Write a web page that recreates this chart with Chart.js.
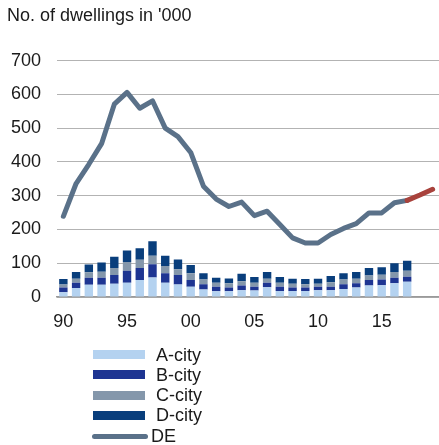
<!DOCTYPE html>
<html>
<head>
<meta charset="utf-8">
<script src="https://cdn.jsdelivr.net/npm/chart.js@4/dist/chart.umd.min.js"></script>
<style>
  html, body { margin: 0; padding: 0; background: #fff; }
  body { width: 439px; height: 445px; position: relative; overflow: hidden;
         font-family: "Liberation Sans", Arial, sans-serif; }
  #wrap { position: absolute; left: 0; top: 0; width: 439px; height: 360px; }
  #legend { position: absolute; left: 0; top: 0; width: 439px; height: 445px; pointer-events: none; }
  .lg-item { position: absolute; left: 0; height: 20px; width: 300px; }
  .lg-box { position: absolute; }
  .lg-text { position: absolute; font-size: 18px; color: #1a1a1a; line-height: 20px; top: 0; }
</style>
</head>
<body>
<div id="wrap"><canvas id="c"></canvas></div>
<div id="legend"></div>
<script>
const years = [1990,1991,1992,1993,1994,1995,1996,1997,1998,1999,2000,2001,2002,2003,2004,
               2005,2006,2007,2008,2009,2010,2011,2012,2013,2014,2015,2016,2017,2018,2019];
const tickYears = [1990,1995,2000,2005,2010,2015];
const aCity = [14,27,36,36,39,42,50,58,42,37,30,22,17,17,20,19,29,18,18,18,20,20,24,28,34,35,41,45,null,null];
const bCity = [14,15,21,21,26,36,36,39,28,28,20,16,13,11,14,11,13,12,10,10,10,10,14,13,16,17,16,15,null,null];
const cCity = [9,12,16,18,21,26,24,25,22,17,20,14,12,13,13,12,12,12,11,10,9,14,14,13,14,14,17,18,null,null];
const dCity = [16,20,23,27,33,34,34,43,30,29,25,18,15,14,22,17,20,17,15,15,15,18,18,20,22,22,26,29,null,null];
const deTotal = [239,336,393,454,571,606,559,581,500,475,428,328,290,268,281,241,254,215,175,160,160,185,203,217,249,249,279,286,302,319];
const forecastFrom = 2017;
const yTicks = [0,100,200,300,400,500,600,700];
const titleText = "No. of dwellings in '000";

const FONT = '"Liberation Sans", Arial, sans-serif';
const colors = { a: '#b4d2f0', b: '#1e3592', c: '#8497ab', d: '#093e7c', de: '#5a7189', fc: '#a8423c' };
const fcIndex = years.indexOf(forecastFrom);

const barDs = (label, data, color) => ({
  type: 'bar', label, data, backgroundColor: color, borderWidth: 0,
  stack: 's', order: 2, barPercentage: 0.66, categoryPercentage: 1.0
});

const chart = new Chart(document.getElementById('c'), {
  data: {
    labels: years,
    datasets: [
      barDs('A-city', aCity, colors.a),
      barDs('B-city', bCity, colors.b),
      barDs('C-city', cCity, colors.c),
      barDs('D-city', dCity, colors.d),
      {
        type: 'line', label: 'DE', data: deTotal, borderColor: colors.de, borderWidth: 5,
        pointRadius: 0, tension: 0, order: 0, borderJoinStyle: 'round', borderCapStyle: 'round',
        segment: { borderColor: ctx => ctx.p0DataIndex >= fcIndex ? colors.fc : undefined }
      }
    ]
  },
  options: {
    responsive: true, maintainAspectRatio: false, animation: false,
    layout: { padding: { left: 7, top: 5, right: 0, bottom: 8 } },
    plugins: {
      legend: { display: false },
      tooltip: { enabled: false },
      title: {
        display: true, text: titleText, align: 'start', color: '#1a1a1a',
        font: { family: FONT, size: 18, weight: 'normal' }, padding: { top: 0, bottom: 34 }
      }
    },
    scales: {
      x: {
        stacked: true, offset: true,
        afterFit: s => { s.paddingLeft = 0; s.paddingRight = 0; s.height = 55; },
        grid: { display: false, drawTicks: false },
        border: { display: true, color: '#9a9a9a', width: 1.5 },
        ticks: {
          autoSkip: false, maxRotation: 0, padding: 14, color: '#1a1a1a',
          font: { family: FONT, size: 18 },
          callback: function(v, i) { const y = years[i]; return tickYears.includes(y) ? String(y).slice(2) : ''; }
        }
      },
      y: {
        stacked: true, min: 0, max: 700,
        afterBuildTicks: s => { s.ticks = yTicks.map(v => ({ value: v })); },
        afterFit: s => { s.width = 50; },
        grid: { color: '#b3b3b3', lineWidth: 1, drawTicks: false },
        border: { display: false },
        ticks: { padding: 16, color: '#1a1a1a', font: { family: FONT, size: 18 } }
      }
    }
  }
});

// HTML legend built from chart datasets
const lg = document.getElementById('legend');
chart.data.datasets.forEach((ds, i) => {
  const item = document.createElement('div');
  item.className = 'lg-item';
  item.style.top = (344.5 + i * 20.3) + 'px';
  const box = document.createElement('div');
  box.className = 'lg-box';
  const txt = document.createElement('div');
  txt.className = 'lg-text';
  txt.textContent = ds.label;
  if (ds.type === 'line') {
    box.style.left = '92px'; box.style.width = '56px'; box.style.height = '5px';
    box.style.top = '8px'; box.style.borderRadius = '3px'; box.style.background = ds.borderColor;
    txt.style.left = '151px';
  } else {
    box.style.left = '93px'; box.style.width = '52px'; box.style.height = '9px';
    box.style.top = '5.5px'; box.style.background = ds.backgroundColor;
    txt.style.left = '156px';
  }
  item.appendChild(box); item.appendChild(txt);
  lg.appendChild(item);
});
</script>
</body>
</html>
